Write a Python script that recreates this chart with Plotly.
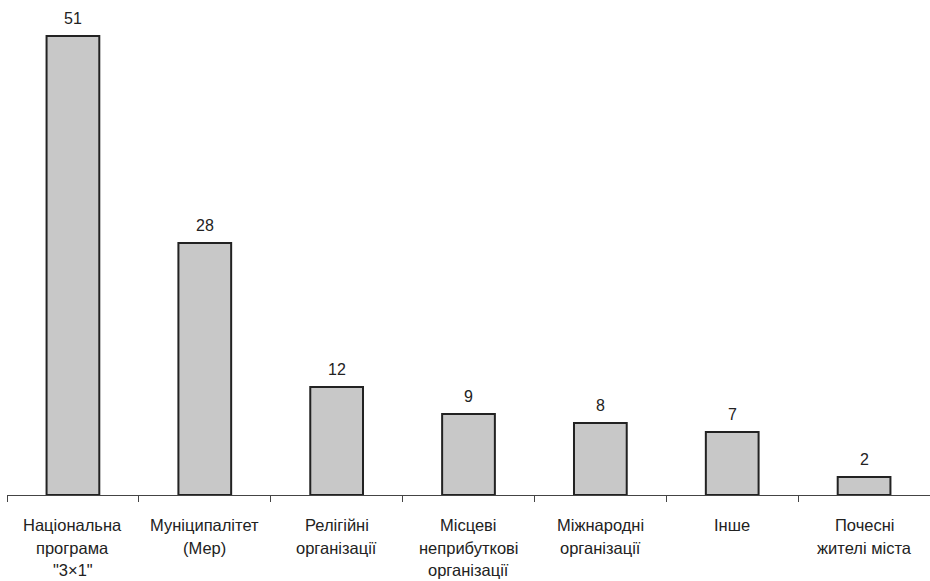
import plotly.graph_objects as go

categories = ["Національна<br>програма<br>\"3×1\"", "Муніципалітет<br>(Мер)", "Релігійні<br>організації",
              "Місцеві<br>неприбуткові<br>організації", "Міжнародні<br>організації", "Інше",
              "Почесні<br>жителі міста"]
values = [51, 28, 12, 9, 8, 7, 2]

keys = [f"c{i}" for i in range(len(categories))]
font_family = "Liberation Sans, Arial, sans-serif"

fig = go.Figure(go.Bar(
    x=keys, y=values,
    marker=dict(color="#c8c8c8", line=dict(color="#222222", width=2)),
    width=0.4,
    hoverinfo="skip",
))

annotations = []
for k, v in zip(keys, values):
    annotations.append(dict(x=k, y=v, xref="x", yref="y", text=str(v), showarrow=False,
                            yanchor="middle", yshift=18, borderpad=0,
                            font=dict(family=font_family, size=16, color="#222222")))
for k, lab in zip(keys, categories):
    for i, line in enumerate(lab.split("<br>")):
        annotations.append(dict(x=k, y=0, xref="x", yref="y", text=line, showarrow=False,
                                yanchor="middle", yshift=-30 - 22.5 * i, borderpad=0,
                                font=dict(family=font_family, size=16.5, color="#222222")))

fig.update_layout(
    width=930, height=581,
    margin=dict(l=7, r=0, t=0, b=86),
    plot_bgcolor="white", paper_bgcolor="white",
    showlegend=False,
    annotations=annotations,
    xaxis=dict(showline=True, linecolor="#444444", linewidth=1, ticks="outside",
               tickson="boundaries", ticklen=6, tickcolor="#444444", showticklabels=False,
               showgrid=False, zeroline=False, fixedrange=True),
    yaxis=dict(range=[0, 55], visible=False, showgrid=False, zeroline=False, fixedrange=True),
)

fig.write_html("out.html", config={"displayModeBar": False},
               post_script="document.body.style.margin='0';document.body.style.overflow='hidden';")
